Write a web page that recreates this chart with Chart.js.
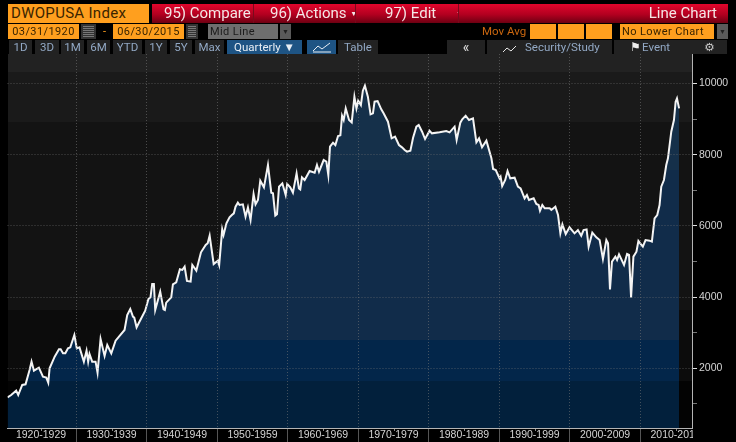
<!DOCTYPE html>
<html>
<head>
<meta charset="utf-8">
<title>DWOPUSA Index</title>
<script src="https://cdn.jsdelivr.net/npm/chart.js@4"></script>
<style>
  html, body { margin: 0; padding: 0; background: #000; overflow: hidden; }
  body { width: 736px; height: 442px; position: relative; font-family: Roboto, sans-serif; }
  canvas { position: absolute; left: 0; top: 0; }
  .box { position: absolute; box-sizing: border-box; white-space: nowrap; overflow: hidden; }
  .red { background: linear-gradient(#e2062c, #b30020 55%, #6e0012); color: #f4e6e6; font-size: 15px; line-height: 18px; top: 4px; height: 19px; border-right: 1px solid #7a0a1c; }
  .orange { background: #ff9f1e; color: #3a2400; top: 24px; height: 15px; font-size: 11px; line-height: 15px; text-align: center; letter-spacing: 0.4px; }
  .grey { background: #6e6e6e; color: #1c1c1c; top: 24px; height: 15px; font-size: 11px; line-height: 15px; }
  .drop { background: #5a5a5a; color: #222; top: 24px; height: 15px; font-size: 7px; line-height: 16px; text-align: center; }
  .cal { top: 24px; height: 15px; background: repeating-linear-gradient(#777 0 1px, #333 1px 2px); border: 2px solid #333; }
  .btn { background: #222; color: #92a8c4; top: 40px; height: 14px; font-size: 11.5px; line-height: 14px; text-align: center; }
  .on { background: #1e5484; color: #e8eef4; }
  #clip { position: absolute; left: 693px; top: 429px; width: 43px; height: 13px; background: #000; }
</style>
</head>
<body>
<canvas id="chart" width="736" height="442"></canvas>
<div id="clip"></div>

<div class="box" style="left:8px;top:4px;width:141px;height:19px;background:#ff9f1e;color:#3a2400;font-size:15px;line-height:19px;padding-left:3px;letter-spacing:0.3px">DWOPUSA Index</div>
<div class="box red" style="left:152px;width:102px;padding-left:12px">95) Compare</div>
<div class="box red" style="left:254px;width:102px;padding-left:16px">96) Actions <span style="font-size:7px;vertical-align:2px">▼</span></div>
<div class="box red" style="left:356px;width:103px;padding-left:29px">97) Edit <span style="font-size:7px;margin-left:16px;vertical-align:2px">▼</span></div>
<div class="box red" style="left:459px;width:269px;text-align:right;padding-right:11px;border:0;font-size:15px">Line Chart</div>

<div class="box orange" style="left:8px;width:71px">03/31/1920</div>
<div class="box cal" style="left:81px;width:15px"></div>
<div class="box" style="left:103px;top:24px;color:#ff9f1e;font-size:11px;line-height:15px">-</div>
<div class="box orange" style="left:113px;width:71px">06/30/2015</div>
<div class="box cal" style="left:186px;width:12px"></div>
<div class="box grey" style="left:208px;width:70px;padding-left:2px;letter-spacing:0.4px">Mid Line</div>
<div class="box drop" style="left:280px;width:11px">▼</div>
<div class="box" style="left:482px;top:24px;color:#c9660f;font-size:11.5px;line-height:15px">Mov Avg</div>
<div class="box orange" style="left:530px;width:26px"></div>
<div class="box orange" style="left:558px;width:26px"></div>
<div class="box orange" style="left:586px;width:26px"></div>
<div class="box orange" style="left:620px;width:94px;text-align:left;padding-left:2px">No Lower Chart</div>
<div class="box drop" style="left:717px;width:11px">▼</div>

<div class="box btn" style="left:9px;width:23px">1D</div>
<div class="box btn" style="left:35px;width:24px">3D</div>
<div class="box btn" style="left:61px;width:23px">1M</div>
<div class="box btn" style="left:87px;width:23px">6M</div>
<div class="box btn" style="left:113px;width:29px">YTD</div>
<div class="box btn" style="left:145px;width:22px">1Y</div>
<div class="box btn" style="left:170px;width:22px">5Y</div>
<div class="box btn" style="left:195px;width:29px">Max</div>
<div class="box btn on" style="left:227px;width:75px">Quarterly ▼</div>
<div class="box btn on" style="left:307px;width:29px">
  <svg width="20" height="12" style="margin-top:1px"><polyline points="1,10 6,5 10,8 18,2" fill="none" stroke="#e8eef4"/><line x1="1" y1="11" x2="19" y2="11" stroke="#e8eef4"/></svg>
</div>
<div class="box btn" style="left:338px;width:40px">Table</div>
<div class="box btn" style="left:447px;width:38px;color:#e0e0e0;font-size:14px">«</div>
<div class="box btn" style="left:487px;width:125px;padding-left:38px;text-align:left">Security/Study</div>
<div class="box" style="left:503px;top:42px;width:14px;height:11px">
  <svg width="14" height="11"><polyline points="0,6 4,2 8,5 13,0" fill="none" stroke="#e8e8e8"/><rect x="0" y="9" width="2" height="2" fill="#e8e8e8"/><rect x="4" y="7" width="2" height="4" fill="#e8e8e8"/><rect x="8" y="8" width="2" height="3" fill="#e8e8e8"/><rect x="12" y="7" width="2" height="4" fill="#e8e8e8"/></svg>
</div>
<div class="box btn" style="left:614px;width:78px;padding-left:28px;text-align:left">Event</div>
<div class="box" style="left:630px;top:41px;color:#eee;font:12px 'DejaVu Sans';line-height:13px">⚑</div>
<div class="box btn" style="left:692px;width:35px;color:#ccc;font-family:'DejaVu Sans'">⚙</div>

<script>
const quarterDates = [
  1920.25, 1920.77, 1921.48, 1921.77, 1922.34, 1922.81, 1923.38, 1923.66, 1924.0, 1924.7, 1925.28,
  1925.75, 1926.03, 1926.22, 1926.94, 1927.55, 1927.79, 1928.12, 1928.45, 1928.83, 1929.16, 1929.73,
  1930.08, 1930.46, 1931.08, 1931.46, 1931.69, 1931.88, 1932.26, 1932.74, 1933.02, 1933.45, 1934.02,
  1934.4, 1934.97, 1935.58, 1936.85, 1937.23, 1937.66, 1938.04, 1938.23, 1938.56, 1939.22, 1939.78,
  1940.24, 1940.53, 1940.77, 1941.01, 1941.2, 1941.91, 1942.38, 1942.57, 1942.76, 1943.47, 1943.71,
  1944.18, 1944.7, 1945.04, 1945.37, 1945.7, 1946.22, 1946.46, 1947.03, 1947.69, 1948.36, 1948.64,
  1948.92, 1949.49,
  1950.08, 1950.27, 1950.7, 1950.89, 1951.3, 1951.74, 1952.07, 1952.35, 1952.59, 1952.92, 1953.16,
  1953.63, 1954.01, 1954.35, 1954.72, 1955.15, 1955.43, 1955.77, 1956.1, 1956.62, 1957.19, 1957.66,
  1957.9, 1958.23, 1958.47, 1958.76, 1959.23, 1959.7,
  1959.92, 1960.35, 1960.73, 1961.25, 1961.58, 1961.77, 1962.01, 1962.39, 1963.1, 1963.81, 1964.14,
  1964.43, 1965.09, 1965.47, 1965.75, 1965.99, 1966.42, 1966.75, 1967.13, 1967.46, 1967.7, 1967.93,
  1968.22, 1968.69, 1969.07, 1969.45, 1969.74,
  1969.99, 1970.37, 1970.65, 1970.94, 1971.36, 1971.74, 1972.08, 1972.31, 1972.74, 1973.26, 1973.59,
  1974.21, 1974.73, 1975.21, 1975.77, 1976.2, 1976.58, 1976.91, 1977.39, 1977.77, 1978.24, 1978.57,
  1979.05, 1979.47,
  1980.11, 1980.44, 1981.53, 1982.48, 1982.95, 1983.66, 1983.95, 1984.47, 1984.75, 1985.23, 1985.7,
  1986.27, 1986.75, 1987.13, 1987.55, 1988.17, 1988.88, 1989.12, 1989.5,
  1990.03, 1990.18, 1990.41, 1990.84, 1991.17, 1991.55, 1992.17, 1992.64, 1993.02, 1993.59, 1993.92,
  1994.21, 1994.87, 1995.25, 1995.58, 1995.77, 1996.1, 1996.44, 1997.15, 1997.38, 1997.95, 1998.33,
  1998.66, 1998.95, 1999.42,
  1999.96, 2000.67, 2001.15, 2001.62, 2001.95, 2002.38, 2002.67, 2003.19, 2003.76, 2004.23, 2004.7,
  2005.18, 2005.42, 2005.7, 2005.98, 2006.46, 2006.7, 2006.98, 2007.69, 2008.12, 2008.4, 2008.69,
  2009.02, 2009.45, 2009.73,
  2009.98, 2010.36, 2010.74, 2011.31, 2011.64, 2012.02, 2012.4, 2012.73, 2012.97, 2013.35, 2013.68,
  2013.92, 2014.39, 2014.77, 2015.01, 2015.2, 2015.5
];

const indexLevels = [
  1185, 1250, 1372, 1250, 1531, 1550, 1953, 2187, 1934, 2018, 1765,
  1737, 1597, 2000, 2327, 2533, 2533, 2421, 2421, 2561, 2589, 2936,
  2561, 2589, 2187, 2496, 2187, 2402, 2187, 2187, 1878, 2823, 2346,
  2655, 2421, 2777, 3076, 3498, 3666, 3451, 3423, 3151, 3404, 3619,
  3947, 3994, 4368, 4368, 3638, 4153, 3657, 3638, 3844, 3994, 4359,
  4415, 4780, 4762, 4855, 4453, 4434, 4902, 4743, 5258, 5464, 5511,
  5726, 4930,
  5024, 4902, 5904, 5745, 6072, 6240, 6306, 6353, 6540, 6653, 6587,
  6606, 6259, 6521, 6166, 6896, 6606, 6727, 7270, 7083, 7711, 6933,
  6915, 6287, 6325, 7102, 7196, 6868,
  7177, 7083, 6933, 7476, 7055, 7027, 7364, 7289, 7542, 7495, 7711,
  7523, 7851, 7804, 7430, 8225, 8338, 8272, 8525, 8544, 9096, 8975,
  9302, 8975, 8909, 9630, 9302,
  9518, 9396, 9798, 9939, 9630, 9134, 9162, 9490, 9508, 9274, 9162,
  8928, 8460, 8506, 8272, 8207, 8132, 8085, 8113, 8478, 8787, 8834,
  8647, 8441,
  8675, 8600, 8628, 8666, 8628, 8787, 8413, 8900, 8993, 9096, 8975,
  9021, 8347, 8460, 8207, 8394, 7898, 7598, 7570,
  7336, 7383, 7121, 7289, 7542, 7336, 7355, 7102, 7055, 6774, 6868,
  6727, 6774, 6615, 6587, 6428, 6587, 6493, 6493, 6447, 6540, 6306,
  5791, 6044, 5772,
  5960, 5791, 5885, 5726, 5885, 5903, 5417, 5810, 5679, 5604, 5070,
  5604, 5510, 4218, 4995, 5136, 5042, 5201, 4902, 5211, 5183, 3993,
  5136, 5276, 5576,
  5510, 5417, 5604, 5585, 5557, 6212, 6306, 6587, 7102, 7289, 7711,
  7898, 8647, 8975, 9489, 9583, 9302
];

const decadeLabels = {
  1925: "1920-1929", 1935: "1930-1939", 1945: "1940-1949", 1955: "1950-1959", 1965: "1960-1969",
  1975: "1970-1979", 1985: "1980-1989", 1995: "1990-1999", 2005: "2000-2009", 2015: "2010-2019"
};
const xTickValues = [1925, 1930, 1935, 1940, 1945, 1950, 1955, 1960, 1965, 1970, 1975,
  1980, 1985, 1990, 1995, 2000, 2005, 2010, 2015];
const yTickValues = [1000, 2000, 3000, 4000, 5000, 6000, 7000, 8000, 9000, 10000];

const canvas = document.getElementById("chart");
const ctx = canvas.getContext("2d");

// hard stops, the reference is a banded gif gradient
const areaFill = ctx.createLinearGradient(0, 54, 0, 428);
areaFill.addColorStop(0, "#15304a");
areaFill.addColorStop(0.31, "#15304a");
areaFill.addColorStop(0.31, "#112c4a");
areaFill.addColorStop(0.765, "#112c4a");
areaFill.addColorStop(0.765, "#03264a");
areaFill.addColorStop(0.875, "#03264a");
areaFill.addColorStop(0.875, "#02203c");
areaFill.addColorStop(1, "#02203c");

const backdrop = {
  id: "backdrop",
  beforeDraw(chart) {
    const { right, bottom } = chart.chartArea;
    const c = chart.ctx;
    const bands = [[54, 72, "#222222"], [72, 122, "#1a1a1a"], [122, 310, "#131313"], [310, 381, "#0c0c0c"], [381, bottom, "#030303"]];
    bands.forEach(([y0, y1, color]) => {
      c.fillStyle = color;
      c.fillRect(8, y0, right - 8, y1 - y0);
    });
  },
  // small marks under the axis at the middle of each decade
  afterDraw(chart) {
    const c = chart.ctx;
    const { bottom } = chart.chartArea;
    c.fillStyle = "#888888";
    Object.keys(decadeLabels).forEach((year) => {
      c.fillRect(Math.round(chart.scales.x.getPixelForValue(Number(year))), bottom + 1, 1, 2);
    });
  },
};

new Chart(ctx, {
  type: "line",
  data: {
    datasets: [
      {
        data: quarterDates.map((year, i) => ({ x: year, y: indexLevels[i] })),
        borderColor: "#f4f4f4",
        borderWidth: 2,
        backgroundColor: areaFill,
        fill: "start",
        tension: 0,
        pointRadius: 0,
      },
    ],
  },
  options: {
    responsive: false,
    animation: false,
    devicePixelRatio: 1,
    layout: { padding: { left: 7.5, top: 54, right: 0, bottom: 0 } },
    plugins: { legend: { display: false }, tooltip: { enabled: false } },
    scales: {
      x: {
        type: "linear",
        min: 1920.25,
        max: 2017.33,
        afterBuildTicks: (scale) => {
          scale.ticks = xTickValues.map((value) => ({ value }));
        },
        afterFit: (scale) => {
          scale.height = 14;
        },
        // z above the grid, the border position is only known once the grid has drawn
        border: { color: "#b4b4b4", width: 1, dash: [1, 2], z: 1 },
        grid: {
          z: 1,
          tickLength: 14,
          color: (c) => (c.tick && c.tick.value % 10 === 0 ? "rgba(120,120,120,0.55)" : "transparent"),
          tickColor: (c) => (c.tick && c.tick.value % 10 === 0 ? "#555555" : "transparent"),
        },
        ticks: {
          autoSkip: false,
          maxRotation: 0,
          padding: -13,
          color: "#d4d4d4",
          font: { family: "Liberation Sans", size: 10.5 },
          callback: (value) => decadeLabels[value] || "",
        },
      },
      y: {
        position: "right",
        min: 323,
        max: 10829,
        afterBuildTicks: (scale) => {
          scale.ticks = yTickValues.map((value) => ({ value }));
        },
        afterFit: (scale) => {
          scale.width = 44;
        },
        border: { color: "#b4b4b4", width: 1, dash: [1, 2], z: 1 },
        grid: {
          z: 1,
          tickLength: 5,
          color: (c) => (c.tick && c.tick.value % 2000 === 0 ? "rgba(120,120,120,0.55)" : "transparent"),
          tickColor: (c) => (c.tick && c.tick.value % 2000 === 0 ? "#e0e0e0" : "#777777"),
        },
        ticks: {
          autoSkip: false,
          padding: 2,
          color: "#d4d4d4",
          font: { family: "Liberation Sans", size: 10.5 },
          callback: (value) => (value % 2000 === 0 ? String(value) : ""),
        },
      },
    },
  },
  plugins: [backdrop],
});
</script>
</body>
</html>
